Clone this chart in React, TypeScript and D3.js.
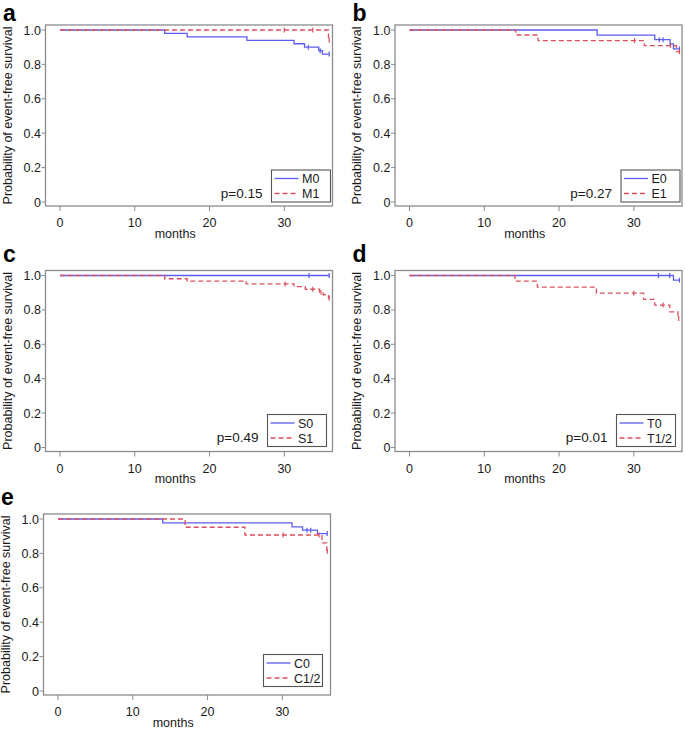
import React, { useEffect, useRef } from 'react';
import * as d3 from 'd3';

// panel info
const panelLetters = ['a', 'b', 'c', 'd', 'e'];
const groupLabels = [['M0', 'M1'], ['E0', 'E1'], ['S0', 'S1'], ['T0', 'T1/2'], ['C0', 'C1/2']];
const pValues = ['p=0.15', 'p=0.27', 'p=0.49', 'p=0.01', ''];
const monthTicks = [0, 10, 20, 30];
const survTicks = [0, 0.2, 0.4, 0.6, 0.8, 1.0];

// event times (months), survival after each event, censored times, last follow-up
const m0Times = [14, 17, 25, 31.3, 32.7, 34.6, 35.1];
const m0Surv = [0.98, 0.96, 0.94, 0.92, 0.9, 0.88, 0.86];
const m0Cens = [33.2, 34.8, 36];
const m1Times = [35.9];
const m1Surv = [0.94];
const m1Cens = [30, 33.8, 36];

const e0Times = [25.1, 32.8, 34.85, 35.3];
const e0Surv = [0.97, 0.944, 0.919, 0.89];
const e0Cens = [33.4, 33.9, 36.1];
const e1Times = [14.2, 17.2, 31.4, 35.7];
const e1Surv = [0.971, 0.938, 0.909, 0.874];
const e1Cens = [30.1, 34.9, 36.1];

const s0Times: number[] = [];
const s0Surv: number[] = [];
const s0Cens = [33.3, 36];
const s1Times = [14, 17, 24.9, 31.3, 32.8, 34.7, 35.2, 35.9];
const s1Surv = [0.981, 0.967, 0.951, 0.935, 0.92, 0.903, 0.888, 0.868];
const s1Cens = [30.1, 33.8, 34.9, 36];

const t0Times = [35.3];
const t0Surv = [0.973];
const t0Cens = [33.3, 34.8, 36.1];
const t12Times = [14.1, 17.1, 25.0, 31.3, 32.8, 34.8, 35.9];
const t12Surv = [0.967, 0.932, 0.897, 0.861, 0.828, 0.789, 0.75];
const t12Cens = [30, 33.9, 36];

const c0Times = [14, 31.3, 32.7, 34.7];
const c0Surv = [0.977, 0.954, 0.935, 0.915];
const c0Cens = [33.3, 33.8, 36];
const c12Times = [17, 25, 35.3, 35.95];
const c12Surv = [0.952, 0.907, 0.861, 0.812];
const c12Cens = [30.1, 34.9, 36];

type Series = { times: number[]; surv: number[]; cens: number[] };
const panelSeries: Series[][] = [
  [{ times: m0Times, surv: m0Surv, cens: m0Cens }, { times: m1Times, surv: m1Surv, cens: m1Cens }],
  [{ times: e0Times, surv: e0Surv, cens: e0Cens }, { times: e1Times, surv: e1Surv, cens: e1Cens }],
  [{ times: s0Times, surv: s0Surv, cens: s0Cens }, { times: s1Times, surv: s1Surv, cens: s1Cens }],
  [{ times: t0Times, surv: t0Surv, cens: t0Cens }, { times: t12Times, surv: t12Surv, cens: t12Cens }],
  [{ times: c0Times, surv: c0Surv, cens: c0Cens }, { times: c12Times, surv: c12Surv, cens: c12Cens }],
];

// layout of each panel frame
const W = 287, H = 181;
const frames = [
  { x: 45.5, y: 25, legRight: 2, legBottom: 4, letterDy: -4.5 },
  { x: 395, y: 25, legRight: 2, legBottom: 4, letterDy: -4.5 },
  { x: 45.5, y: 270.5, legRight: 6, legBottom: 5, letterDy: -9 },
  { x: 395, y: 270.5, legRight: 6.5, legBottom: 5, letterDy: -9 },
  { x: 43.5, y: 514, legRight: 8, legBottom: 8.5, letterDy: -9 },
];

const colors = ['#5c5cee', '#dc4f5c'];
const dashes = [null, '5,3'];
const FONT = '"Liberation Sans", Arial, Helvetica, sans-serif';

const survAt = (s: Series, t: number) => {
  let v = 1;
  s.times.forEach((tt, i) => { if (tt <= t) v = s.surv[i]; });
  return v;
};

const App = () => {
  const ref = useRef<SVGSVGElement>(null);

  useEffect(() => {
    const svg = d3.select(ref.current);
    svg.selectAll('*').remove();

    frames.forEach((f, p) => {
      const g = svg.append('g').attr('transform', `translate(${f.x},${f.y})`);

      const x = d3.scaleLinear().domain([0, 36]).range([14.5, 283.7]);
      const y = d3.scaleLinear().domain([0, 1]).range([H - 4, 5]);

      // frame
      g.append('rect')
        .attr('width', W).attr('height', H)
        .attr('fill', 'none').attr('stroke', '#8c8c8c').attr('stroke-width', 1.3);

      // y ticks
      g.selectAll('ytick').data(survTicks).enter().append('line')
        .attr('x1', -4).attr('x2', 0)
        .attr('y1', d => y(d)).attr('y2', d => y(d))
        .attr('stroke', '#8c8c8c');
      g.selectAll('ylab').data(survTicks).enter().append('text')
        .attr('x', -4.5).attr('y', d => y(d))
        .attr('dy', '0.36em')
        .attr('text-anchor', 'end')
        .attr('font-size', 12.5).attr('font-family', FONT).attr('fill', '#1a1a1a')
        .text(d => d === 0 ? '0' : d.toFixed(1));

      // x ticks
      g.selectAll('xtick').data(monthTicks).enter().append('line')
        .attr('x1', d => x(d)).attr('x2', d => x(d))
        .attr('y1', H).attr('y2', H + 5)
        .attr('stroke', '#8c8c8c');
      g.selectAll('xlab').data(monthTicks).enter().append('text')
        .attr('x', d => x(d)).attr('y', H + 21)
        .attr('text-anchor', 'middle')
        .attr('font-size', 12.5).attr('font-family', FONT).attr('fill', '#1a1a1a')
        .text(d => d);

      // axis titles
      g.append('text')
        .attr('x', x(15.4)).attr('y', H + 31.5)
        .attr('text-anchor', 'middle')
        .attr('font-size', 12.5).attr('font-family', FONT).attr('fill', '#1a1a1a')
        .text('months');
      g.append('text')
        .attr('transform', `translate(-34,${H / 2}) rotate(-90)`)
        .attr('text-anchor', 'middle')
        .attr('font-size', 12.5).attr('font-family', FONT).attr('fill', '#1a1a1a')
        .text('Probability of event-free survival');

      // panel letter
      g.append('text')
        .attr('x', -42.5).attr('y', f.letterDy)
        .attr('font-size', 23).attr('font-weight', 'bold').attr('font-family', FONT)
        .attr('fill', '#000')
        .text(panelLetters[p]);

      // KM curves
      const line = d3.line<[number, number]>()
        .x(d => x(d[0])).y(d => y(d[1]))
        .curve(d3.curveStepAfter);

      panelSeries[p].forEach((s, i) => {
        const end = d3.max(s.cens) as number;
        const pts: [number, number][] = [[0, 1]];
        s.times.forEach((t, k) => pts.push([t, s.surv[k]]));
        pts.push([end, survAt(s, end)]);

        g.append('path')
          .attr('d', line(pts))
          .attr('fill', 'none')
          .attr('stroke', colors[i])
          .attr('stroke-width', 1.3)
          .attr('stroke-dasharray', dashes[i]);

        // censor marks
        g.selectAll('cens' + i).data(s.cens).enter().append('line')
          .attr('x1', d => x(d)).attr('x2', d => x(d))
          .attr('y1', d => y(survAt(s, d)) - 2.5)
          .attr('y2', d => y(survAt(s, d)) + 2.5)
          .attr('stroke', colors[i])
          .attr('stroke-width', 1.2);
      });

      // legend
      const lw = 59, lh = 32;
      const lx = W - f.legRight - lw, ly = H - f.legBottom - lh;
      const leg = g.append('g').attr('transform', `translate(${lx},${ly})`);
      leg.append('rect')
        .attr('width', lw).attr('height', lh)
        .attr('fill', '#fff').attr('stroke', '#555').attr('stroke-width', 1.1);
      groupLabels[p].forEach((lab, i) => {
        const ry = 8.5 + i * 15;
        leg.append('line')
          .attr('x1', 3).attr('x2', 27)
          .attr('y1', ry).attr('y2', ry)
          .attr('stroke', colors[i]).attr('stroke-width', 1.3)
          .attr('stroke-dasharray', dashes[i]);
        leg.append('text')
          .attr('x', 30.5).attr('y', ry)
          .attr('dy', '0.36em')
          .attr('font-size', 12.5).attr('font-family', FONT).attr('fill', '#1a1a1a')
          .text(lab);
      });

      if (pValues[p]) {
        g.append('text')
          .attr('x', lx - 9).attr('y', ly + lh - 4.5)
          .attr('text-anchor', 'end')
          .attr('font-size', 13.5).attr('font-family', FONT).attr('fill', '#1a1a1a')
          .text(pValues[p]);
      }
    });
  }, []);

  return (
    <svg ref={ref} width={685} height={729}
      style={{ position: 'absolute', left: 0, top: 0, background: '#fff' }} />
  );
};

export default App;
